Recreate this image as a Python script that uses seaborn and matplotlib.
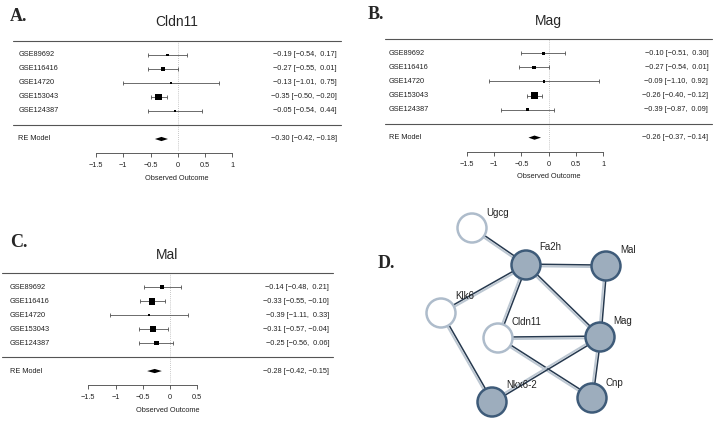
import numpy as np
import pandas as pd
import seaborn as sns
import matplotlib.pyplot as plt
from matplotlib.patches import Polygon, Circle

# ---- data ----
studies = ['GSE89692', 'GSE116416', 'GSE14720', 'GSE153043', 'GSE124387']

cldn11_est = [-0.19, -0.27, -0.13, -0.35, -0.05]
cldn11_lo = [-0.54, -0.55, -1.01, -0.50, -0.54]
cldn11_hi = [0.17, 0.01, 0.75, -0.20, 0.44]
cldn11_re = [-0.30, -0.42, -0.18]

mag_est = [-0.10, -0.27, -0.09, -0.26, -0.39]
mag_lo = [-0.51, -0.54, -1.10, -0.40, -0.87]
mag_hi = [0.30, 0.01, 0.92, -0.12, 0.09]
mag_re = [-0.26, -0.37, -0.14]

mal_est = [-0.14, -0.33, -0.39, -0.31, -0.25]
mal_lo = [-0.48, -0.55, -1.11, -0.57, -0.56]
mal_hi = [0.21, -0.10, 0.33, -0.04, 0.06]
mal_re = [-0.28, -0.42, -0.15]

ticks_ab = [-1.5, -1, -0.5, 0, 0.5, 1]
ticks_c = [-1.5, -1, -0.5, 0, 0.5]

# network (STRING style)
genes = ['Ugcg', 'Fa2h', 'Mal', 'Klk6', 'Cldn11', 'Mag', 'Nkx6-2', 'Cnp']
gene_query = [False, True, True, False, False, True, True, True]
edges = [('Ugcg', 'Fa2h'), ('Fa2h', 'Mal'), ('Klk6', 'Fa2h'), ('Fa2h', 'Cldn11'),
         ('Fa2h', 'Mag'), ('Mal', 'Mag'), ('Klk6', 'Nkx6-2'), ('Cldn11', 'Mag'),
         ('Cldn11', 'Cnp'), ('Mag', 'Nkx6-2'), ('Mag', 'Cnp')]

# layout of network in pixel space
node_x = [472, 526, 606, 441, 498, 600, 492, 592]
node_y = [228, 265, 266, 313, 338, 337, 402, 398]
label_x = [486, 539, 620, 455, 512, 613, 506, 605]
label_y = [213, 247, 250, 296, 322, 321, 385, 383]

W, H = 720, 422

sns.set_theme(style='white')
plt.rcParams['font.family'] = ['Liberation Sans', 'DejaVu Sans']

fig = plt.figure(figsize=(W / 100, H / 100), dpi=100)


def px_axes(x0, y0, x1, y1):
    return fig.add_axes([x0 / W, 1 - y1 / H, (x1 - x0) / W, (y1 - y0) / H])


def fmt(v):
    return f"{v:5.2f}".replace('-', '\u2212')


def forest(rect, zero, unit, lab_px, right_px, title, est, lo, hi, re, ticks):
    x0, y0, x1, y1 = rect
    ax = px_axes(x0, y0, x1, y1)
    ax.set_xlim((x0 - zero) / unit, (x1 - zero) / unit)
    ax.set_ylim(-2, 6)
    ax.set_facecolor('none')
    lab_x = (lab_px - zero) / unit
    right_x = (right_px - zero) / unit

    df = pd.DataFrame({'study': studies, 'est': est, 'lo': lo, 'hi': hi,
                       'row': [5, 4, 3, 2, 1]})
    se = (df['hi'] - df['lo']) / 3.92
    w = 1 / se ** 2
    cex = 0.5 + (w - w.min()) / (w.max() - w.min())
    side = 4.5 * cex * 0.72

    ax.vlines(0, -1.8, 6, colors='#b5b5b5', linestyles=(0, (1, 1.5)), lw=0.6)
    ax.errorbar(df['est'], df['row'], xerr=[df['est'] - df['lo'], df['hi'] - df['est']],
                fmt='none', ecolor='#444444', elinewidth=0.55, capsize=1.1, capthick=0.55)
    sns.scatterplot(data=df, x='est', y='row', marker='s', s=side ** 2, color='black',
                    linewidth=0, legend=False, ax=ax, zorder=3)

    # summary diamond
    e, l, h = re
    ax.add_patch(Polygon([(l, -1), (e, -0.85), (h, -1), (e, -1.15)], closed=True,
                         facecolor='black', edgecolor='none'))

    ax.axhline(6, color='#555555', lw=0.8, clip_on=False)
    ax.axhline(0, color='#555555', lw=0.8, clip_on=False)

    for _, r in df.iterrows():
        ax.text(lab_x, r['row'], r['study'], fontsize=5.3, va='center', ha='left', color='#222222')
        ax.text(right_x, r['row'], f"{fmt(r['est'])} [{fmt(r['lo'])}, {fmt(r['hi'])}]",
                fontsize=5.3, va='center', ha='right', color='#222222')
    ax.text(lab_x, -1, 'RE Model', fontsize=5.3, va='center', ha='left', color='#222222')
    ax.text(right_x, -1, f"{fmt(e)} [{fmt(l)}, {fmt(h)}]", fontsize=5.3, va='center',
            ha='right', color='#222222')

    for s in ['top', 'left', 'right']:
        ax.spines[s].set_visible(False)
    ax.spines['bottom'].set_bounds(ticks[0], ticks[-1])
    ax.spines['bottom'].set_color('#444444')
    ax.spines['bottom'].set_linewidth(0.6)
    ax.set_xticks(ticks)
    ax.set_xticklabels([f"{t:g}".replace('-', '\u2212') for t in ticks])
    ax.set_yticks([])
    ax.tick_params(axis='x', bottom=True, direction='out', length=3, width=0.6,
                   color='#444444', labelsize=5.3, pad=3.5, labelcolor='#222222')
    ax.set_xlabel('Observed Outcome', fontsize=5.3, labelpad=4, color='#222222')
    ax.set_ylabel('')
    ax.annotate(title, xy=(0.5, 1), xycoords='axes fraction', xytext=(0, 13.5),
                textcoords='offset points', ha='center', va='center', fontsize=10)
    return ax


forest((13, 41, 341, 153), 177.8, 54.5, 18.3, 336.7, 'Cldn11',
       cldn11_est, cldn11_lo, cldn11_hi, cldn11_re, ticks_ab)
forest((385, 39.3, 712, 151.7), 548.7, 54.67, 389, 708.3, 'Mag',
       mag_est, mag_lo, mag_hi, mag_re, ticks_ab)
forest((2, 273.3, 333, 385), 170, 54.5, 10, 329.3, 'Mal',
       mal_est, mal_lo, mal_hi, mal_re, ticks_c)

# panel letters
for letter, lx, ly in [('A.', 10, 21), ('B.', 368, 19), ('C.', 10, 247), ('D.', 378, 268)]:
    fig.text(lx / W, 1 - ly / H, letter, fontsize=13, fontweight='bold',
             family='Liberation Serif', va='baseline', ha='left')

# ---- network panel ----
axn = px_axes(400, 200, 720, 422)
axn.set_xlim(400, 720)
axn.set_ylim(422, 200)
axn.axis('off')
pos = {g: (x, y) for g, x, y in zip(genes, node_x, node_y)}
for a, b in edges:
    p = np.array(pos[a], float)
    q = np.array(pos[b], float)
    d = (q - p) / np.linalg.norm(q - p)
    n = np.array([-d[1], d[0]])
    lp, lq = p + n * 1.2, q + n * 1.2
    dp, dq = p - n * 0.9, q - n * 0.9
    axn.plot([lp[0], lq[0]], [lp[1], lq[1]], color='#bcc7d2', lw=1.4, zorder=1,
             solid_capstyle='butt')
    axn.plot([dp[0], dq[0]], [dp[1], dq[1]], color='#26394f', lw=1.1, zorder=1,
             solid_capstyle='butt')

for g, x, y, q in zip(genes, node_x, node_y, gene_query):
    if q:
        c = Circle((x, y), 14.5, facecolor='#9dadbd', edgecolor='#3e5b79', lw=1.8, zorder=3)
    else:
        c = Circle((x, y), 14.5, facecolor='white', edgecolor='#aebccb', lw=1.8, zorder=3)
    axn.add_patch(c)

for g, x, y in zip(genes, label_x, label_y):
    axn.text(x, y, g, fontsize=7, ha='left', va='center', color='#222222', zorder=4)

fig.savefig('out.png', dpi=100)
